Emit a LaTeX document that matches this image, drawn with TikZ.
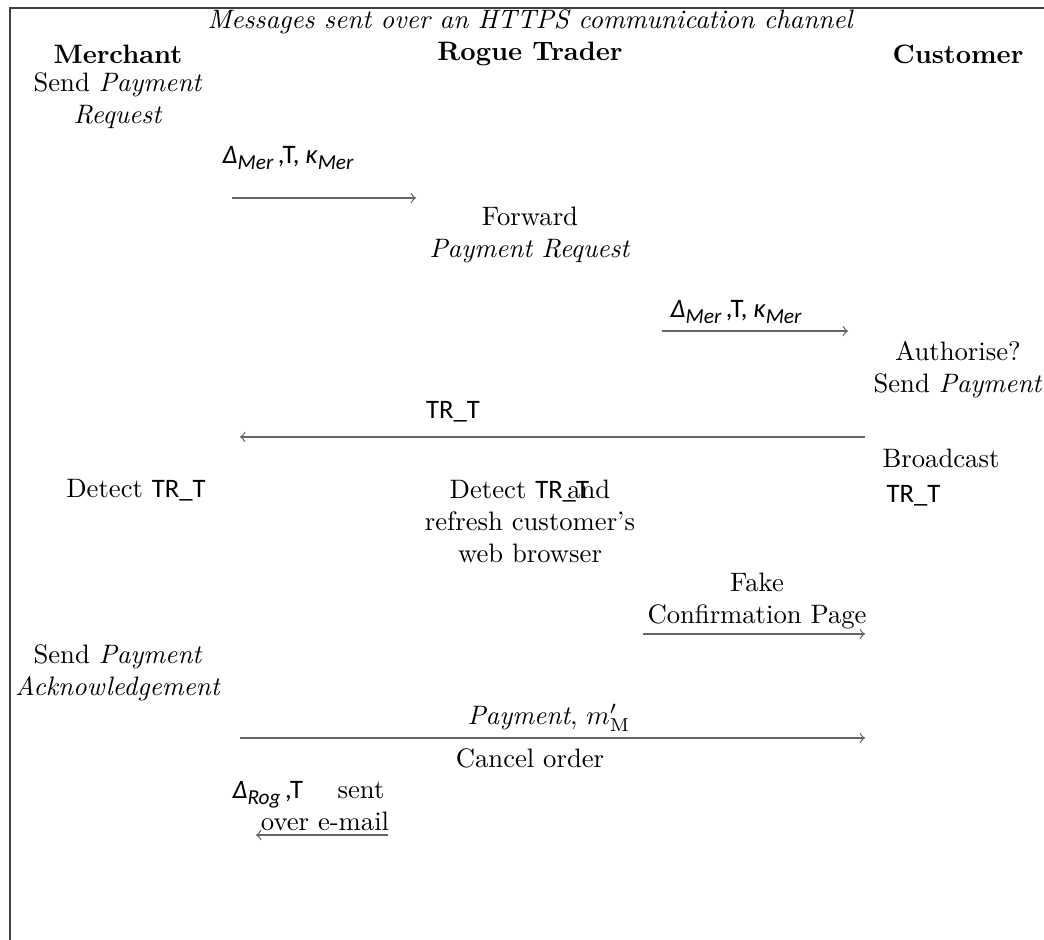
\documentclass[tikz,border=0pt]{standalone}
\usepackage{fontspec}
\newfontfamily\labfont{Carlito}
\usetikzlibrary{arrows}
\newcommand{\trt}{{\labfont TR\_T}}
\newcommand{\sub}[1]{\raisebox{-0.5ex}{\footnotesize\itshape #1}}
\newcommand{\merlab}{{\labfont\itshape Δ\sub{Mer}\,\upshape,T, \itshape κ\sub{Mer}}}
\begin{document}
\begin{tikzpicture}[x=0.375pt,y=-0.375pt,
  txt/.style={inner sep=0pt, align=center},
  msg/.style={draw=black!60, line width=0.5pt, -to},
  frame/.style={draw=black!75, line width=0.8pt}]
\useasboundingbox (0,0) rectangle (1044,940);
% frame (top and left edges)
\draw[frame] (1044,8) -- (10,8) -- (10,940);

% title and column heads
\node[txt] (title) at (530,22) {\itshape Messages sent over an HTTPS communication channel};
\node[txt] (mer) at (118,54) {\bfseries Merchant};
\node[txt] (rog) at (530,54) {\bfseries Rogue Trader};
\node[txt] (cus) at (958,54) {\bfseries Customer};

% step texts
\node[txt] (sendreq) at (118,101) {Send \textit{Payment}\\\textit{Request}};
\node[txt] (fwd) at (530,235) {Forward\\\textit{Payment Request}};
\node[txt] (auth) at (958,370) {Authorise?\\Send \textit{Payment}};
\node[txt, anchor=west] (bc) at (882,458) {Broadcast};
\node[txt, anchor=west] (bctr) at (886,496) {\trt};
\node[txt] (detm) at (136,490) {Detect \trt};
\node[txt] (detr) at (530,521) {Detect \makebox[12pt][l]{\trt}and\\refresh customer's\\web browser};
\node[txt] (fake) at (757,601) {Fake\\Confirmation Page};
\node[txt] (ack) at (118,673) {Send \textit{Payment}\\\textit{Acknowledgement}};
\node[txt] (cancel) at (530,758) {Cancel order};
\node[txt] (sent) at (361,790) {sent};
\node[txt] (email) at (325,821) {over e-mail};

% message labels
\node[txt, anchor=west] (l1) at (222,158) {\merlab};
\node[txt, anchor=west] (l2) at (670,312) {\merlab};
\node[txt] (l3) at (453,412) {\trt};
\node[txt] (l5) at (549,718) {$\mathit{Payment},\,m'_{\mathrm{M}}$};
\node[txt, anchor=west] (l6) at (232,795) {{\labfont\itshape Δ\sub{Rog}\,\upshape,T}};

% message end points
\coordinate (m1a) at (232,198);  \coordinate (m1b) at (416,198);
\coordinate (m2a) at (662,331);  \coordinate (m2b) at (848,331);
\coordinate (m3a) at (865,437);  \coordinate (m3b) at (240,437);
\coordinate (m4a) at (643,634);  \coordinate (m4b) at (865,634);
\coordinate (m5a) at (240,738);  \coordinate (m5b) at (865,738);
\coordinate (m6a) at (388,835);  \coordinate (m6b) at (256,835);

% messages
\draw[msg] (m1a) -- (m1b);
\draw[msg] (m2a) -- (m2b);
\draw[msg] (m3a) -- (m3b);
\draw[msg] (m4a) -- (m4b);
\draw[msg] (m5a) -- (m5b);
\draw[msg] (m6a) -- (m6b);
\end{tikzpicture}
\end{document}
